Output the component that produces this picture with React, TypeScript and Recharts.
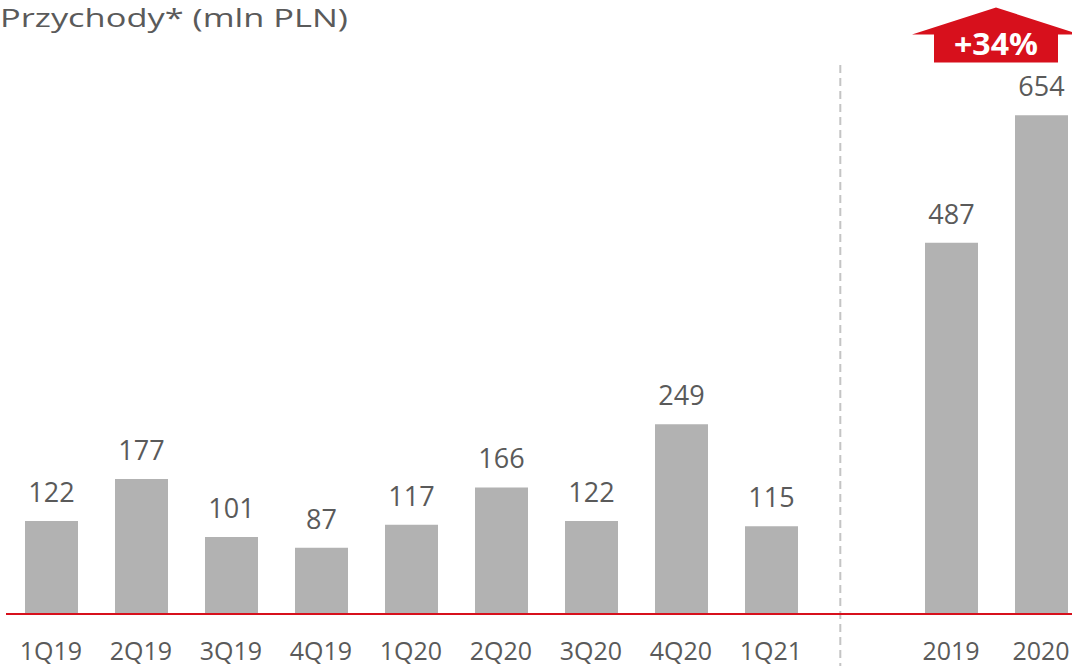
// Przychody* (mln PLN) — quarterly and yearly revenue bars, gray on white,
// red baseline, dashed divider between quarters and full years.

import {
  Bar,
  BarChart,
  LabelList,
  ReferenceDot,
  ReferenceLine,
  XAxis,
  YAxis,
} from "recharts";

const BAR = "#b2b2b2";
const RED = "#d7101c";
const TEXT = "#5a5a5a";
const DIVIDER = "#c4c4c4";
const FONT = "'Open Sans', 'DejaVu Sans', sans-serif";

// slot 9 is left empty as a gap before the yearly bars
const labels = ["1Q19", "2Q19", "3Q19", "4Q19", "1Q20", "2Q20", "3Q20", "4Q20", "1Q21", "2019", "2020"];
const slots = [0, 1, 2, 3, 4, 5, 6, 7, 8, 10, 11];
const revenue = [122, 177, 101, 87, 117, 166, 122, 249, 115, 487, 654];
const growth = "+34%";
const title = "Przychody* (mln PLN)";

const data = labels.map((label, i) => ({ label, slot: slots[i], value: revenue[i] }));

function Tick({ x, y, payload }: { x?: number; y?: number; payload?: { value: number } }) {
  const idx = slots.indexOf(payload?.value ?? -1);
  if (idx < 0) return null;
  return (
    <text x={x} y={(y ?? 0) + 44} textAnchor="middle" fill={TEXT} fontSize={25} fontFamily={FONT}>
      {labels[idx]}
    </text>
  );
}

function Arrow({ cx, cy }: { cx?: number; cy?: number }) {
  const x = cx ?? 0;
  const y = cy ?? 0;
  const pts = [
    [x, y - 27],
    [x + 84, y],
    [x + 62, y],
    [x + 62, y + 28],
    [x - 62, y + 28],
    [x - 62, y],
    [x - 84, y],
  ]
    .map((p) => p.join(","))
    .join(" ");
  return (
    <g>
      <polygon points={pts} fill={RED} />
      <text
        x={x}
        y={y + 20}
        textAnchor="middle"
        fill="#fff"
        fontSize={30}
        fontWeight={700}
        fontFamily={FONT}
        textLength={84}
        lengthAdjust="spacingAndGlyphs"
      >
        {growth}
      </text>
    </g>
  );
}

export default function App() {
  return (
    <div style={{ position: "absolute", left: 0, top: 0, width: 1072, height: 666, overflow: "hidden", background: "#fff" }}>
      <svg width={1072} height={44} style={{ position: "absolute", left: 0, top: 0 }}>
        <text
          x={0}
          y={27}
          fill={TEXT}
          fontSize={25}
          fontFamily={FONT}
          textLength={348}
          lengthAdjust="spacingAndGlyphs"
        >
          {title}
        </text>
      </svg>
      <BarChart
        width={1090}
        height={666}
        data={data}
        margin={{ top: 4, right: 4, bottom: 0, left: 6 }}
      >
        <XAxis
          dataKey="slot"
          type="number"
          domain={[-0.5, 11.5]}
          ticks={slots}
          tick={<Tick />}
          tickLine={false}
          tickSize={0}
          axisLine={{ stroke: RED, strokeWidth: 2 }}
          height={52}
          interval={0}
        />
        <YAxis hide domain={[0, 800]} />
        <ReferenceLine
          segment={[
            { x: 8.77, y: 720 },
            { x: 8.77, y: -70 },
          ]}
          stroke={DIVIDER}
          strokeWidth={2}
          strokeDasharray="8 5"
          ifOverflow="visible"
        />
        <Bar dataKey="value" fill={BAR} barSize={53} isAnimationActive={false}>
          <LabelList
            dataKey="value"
            position="top"
            offset={19}
            fill={TEXT}
            fontSize={27}
            fontFamily={FONT}
          />
        </Bar>
        <ReferenceDot x={10.5} y={760} ifOverflow="visible" shape={<Arrow />} />
      </BarChart>
    </div>
  );
}
